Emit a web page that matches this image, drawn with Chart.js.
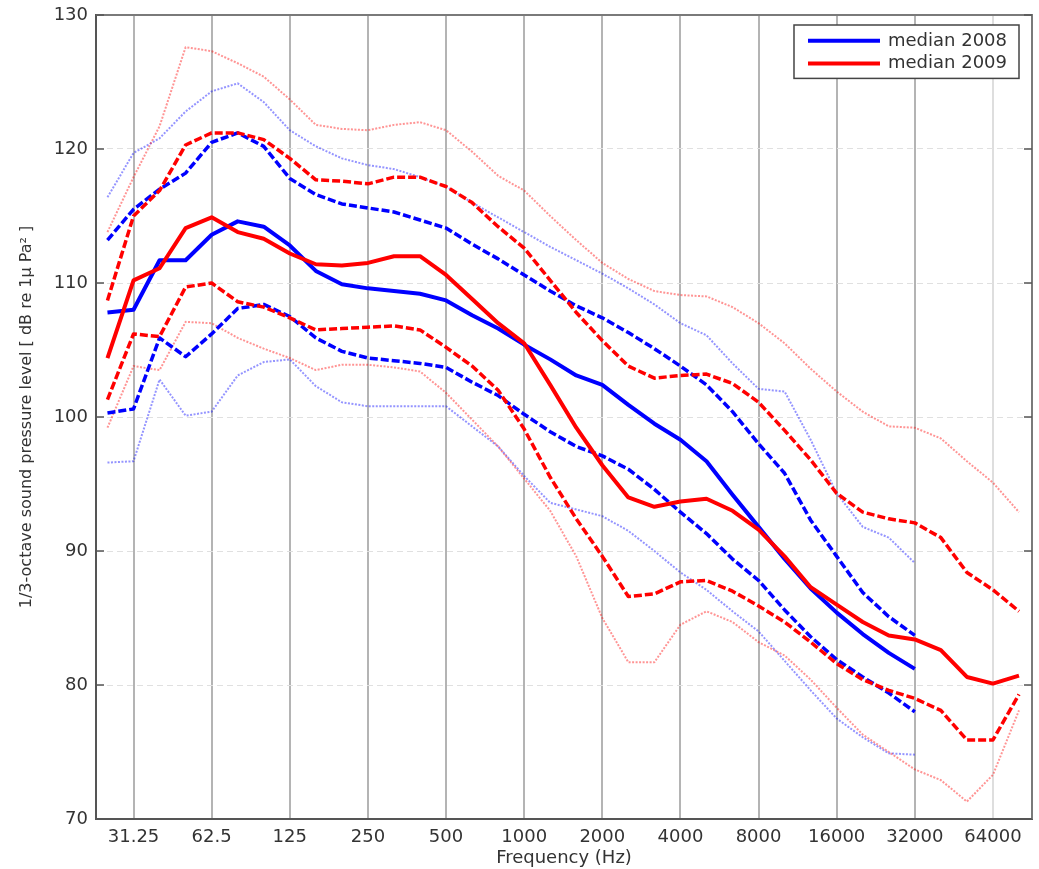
<!DOCTYPE html>
<html>
<head>
<meta charset="utf-8">
<script src="https://cdn.jsdelivr.net/npm/chart.js@4.4.1/dist/chart.umd.min.js"></script>
<style>
  html, body { margin: 0; padding: 0; background: #ffffff; }
  #wrap { width: 1039px; height: 869px; }
</style>
</head>
<body>
<div id="wrap"><canvas id="c" width="1039" height="869"></canvas></div>
<script>
// 1/3-octave band centre frequencies (Hz)
const freqs = [24.8, 31.25, 39.37, 49.61, 62.5, 78.75, 99.21, 125, 157.49, 198.43,
  250, 314.98, 396.85, 500, 629.96, 793.70, 1000, 1259.92, 1587.40, 2000,
  2519.84, 3174.80, 4000, 5039.68, 6349.60, 8000, 10079.37, 12699.21, 16000, 20158.74,
  25398.42, 32000, 40317.47, 50796.84, 64000, 80634.95];

const tickValues = [31.25, 62.5, 125, 250, 500, 1000, 2000, 4000, 8000, 16000, 32000, 64000];
const tickLabels = ['31.25', '62.5', '125', '250', '500', '1000', '2000', '4000', '8000', '16000', '32000', '64000'];

// 2008 (blue) – 32 bands up to 32 kHz
const median2008 = [107.8, 108.0, 111.7, 111.7, 113.6, 114.6, 114.2, 112.8, 110.9, 109.9,
  109.6, 109.4, 109.2, 108.7, 107.6, 106.6, 105.4, 104.3, 103.1, 102.4,
  100.9, 99.5, 98.3, 96.7, 94.2, 91.8, 89.4, 87.2, 85.4, 83.8, 82.4, 81.2];
const upperQ2008 = [113.2, 115.5, 117.0, 118.2, 120.5, 121.2, 120.2, 117.8, 116.6, 115.9,
  115.6, 115.3, 114.7, 114.1, 112.9, 111.8, 110.6, 109.4, 108.3, 107.4,
  106.3, 105.1, 103.8, 102.4, 100.4, 98.0, 95.8, 92.3, 89.6, 86.9, 85.1, 83.7];
const lowerQ2008 = [100.3, 100.6, 105.9, 104.5, 106.2, 108.1, 108.4, 107.5, 105.9, 104.9,
  104.4, 104.2, 104.0, 103.7, 102.6, 101.6, 100.2, 98.9, 97.8, 97.1,
  96.1, 94.6, 92.9, 91.3, 89.4, 87.8, 85.6, 83.6, 81.9, 80.6, 79.4, 78.0];
const upperP2008 = [116.4, 119.7, 120.8, 122.8, 124.3, 124.9, 123.5, 121.4, 120.2, 119.3,
  118.8, 118.5, 117.9, 117.2, 116.0, 114.9, 113.8, 112.7, 111.7, 110.7,
  109.6, 108.4, 107.0, 106.1, 104.0, 102.1, 101.9, 98.3, 94.3, 91.8, 91.0, 89.1];
const lowerP2008 = [96.6, 96.7, 102.8, 100.1, 100.4, 103.1, 104.1, 104.3, 102.3, 101.1,
  100.8, 100.8, 100.8, 100.8, 99.3, 97.8, 95.6, 93.6, 93.1, 92.6,
  91.5, 90.0, 88.4, 87.1, 85.5, 84.0, 81.8, 79.6, 77.5, 76.1, 74.9, 74.8];

// 2009 (red) – 36 bands up to 80 kHz
const median2009 = [104.4, 110.2, 111.1, 114.1, 114.9, 113.8, 113.3, 112.2, 111.4, 111.3,
  111.5, 112.0, 112.0, 110.6, 108.8, 107.0, 105.5, 102.4, 99.2, 96.4,
  94.0, 93.3, 93.7, 93.9, 93.0, 91.6, 89.6, 87.3, 86.0, 84.7,
  83.7, 83.4, 82.6, 80.6, 80.1, 80.7];
const upperQ2009 = [108.7, 115.0, 116.9, 120.3, 121.2, 121.2, 120.7, 119.3, 117.7, 117.6,
  117.4, 117.9, 117.9, 117.2, 116.0, 114.2, 112.6, 110.2, 107.8, 105.7,
  103.8, 102.9, 103.1, 103.2, 102.5, 101.1, 99.0, 96.8, 94.3, 92.9,
  92.4, 92.1, 91.0, 88.4, 87.1, 85.5];
const lowerQ2009 = [101.3, 106.2, 106.0, 109.7, 110.0, 108.6, 108.2, 107.4, 106.5, 106.6,
  106.7, 106.8, 106.5, 105.2, 103.8, 102.0, 99.1, 95.5, 92.4, 89.6,
  86.6, 86.8, 87.7, 87.8, 87.0, 85.9, 84.7, 83.2, 81.6, 80.4,
  79.6, 79.0, 78.1, 75.9, 75.9, 79.3];
const upperP2009 = [113.8, 117.9, 121.7, 127.6, 127.3, 126.4, 125.4, 123.7, 121.8, 121.5,
  121.4, 121.8, 122.0, 121.4, 119.8, 118.0, 116.9, 115.0, 113.2, 111.5,
  110.3, 109.4, 109.1, 109.0, 108.2, 107.0, 105.5, 103.6, 101.9, 100.4,
  99.3, 99.2, 98.4, 96.7, 95.1, 92.9];
const lowerP2009 = [99.2, 103.8, 103.5, 107.1, 107.0, 105.9, 105.1, 104.4, 103.5, 103.9,
  103.9, 103.7, 103.4, 101.8, 99.8, 97.8, 95.4, 93.0, 89.6, 85.0,
  81.7, 81.7, 84.5, 85.5, 84.7, 83.2, 82.2, 80.4, 78.3, 76.3,
  75.0, 73.7, 72.9, 71.3, 73.3, 78.1];

const BLUE = '#0000ff', RED = '#ff0000';
const BLUE_LIGHT = 'rgba(0,0,255,0.42)', RED_LIGHT = 'rgba(255,0,0,0.42)';

function pts(values) { return values.map((v, i) => ({ x: freqs[i], y: v })); }
function ds(label, values, color, kind) {
  const d = { label: label, data: pts(values), borderColor: color, backgroundColor: color,
              fill: false, pointRadius: 0, tension: 0, borderJoinStyle: 'round' };
  if (kind === 'median') { d.borderWidth = 4; }
  else if (kind === 'quart') { d.borderWidth = 3.5; d.borderDash = [8, 3]; }
  else { d.borderWidth = 2; d.borderDash = [2, 1.5]; }
  return d;
}

const datasets = [
  ds('median 2009', median2009, RED, 'median'),
  ds('median 2008', median2008, BLUE, 'median'),
  ds('upper quartile 2009', upperQ2009, RED, 'quart'),
  ds('lower quartile 2009', lowerQ2009, RED, 'quart'),
  ds('upper quartile 2008', upperQ2008, BLUE, 'quart'),
  ds('lower quartile 2008', lowerQ2008, BLUE, 'quart'),
  ds('upper percentile 2009', upperP2009, RED_LIGHT, 'pct'),
  ds('lower percentile 2009', lowerP2009, RED_LIGHT, 'pct'),
  ds('upper percentile 2008', upperP2008, BLUE_LIGHT, 'pct'),
  ds('lower percentile 2008', lowerP2008, BLUE_LIGHT, 'pct')
];

const legendItems = [
  { text: 'median 2008', color: BLUE },
  { text: 'median 2009', color: RED }
];

const TEXT = '#333333';
const FONT = 'DejaVu Sans';

// frame + inward y ticks
const framePlugin = {
  id: 'frame',
  beforeDatasetsDraw(chart) {
    const { ctx, chartArea: a, scales } = chart;
    ctx.save();
    ctx.strokeStyle = '#7a7a7a';
    ctx.lineWidth = 2;
    ctx.beginPath();
    ctx.moveTo(a.left, a.top); ctx.lineTo(a.right, a.top); ctx.lineTo(a.right, a.bottom);
    ctx.stroke();
    ctx.strokeStyle = '#555';
    ctx.lineWidth = 1.5;
    scales.y.ticks.forEach(t => {
      const y = scales.y.getPixelForValue(t.value);
      ctx.beginPath();
      ctx.moveTo(a.left, y); ctx.lineTo(a.left + 8, y);
      ctx.moveTo(a.right - 8, y); ctx.lineTo(a.right, y);
      ctx.stroke();
    });
    ctx.restore();
  }
};

// legend box inside the plot, top-right
const boxLegendPlugin = {
  id: 'boxLegend',
  afterDraw(chart) {
    const { ctx, chartArea: a } = chart;
    ctx.save();
    ctx.font = '18px "' + FONT + '"';
    const textW = Math.max(...legendItems.map(it => ctx.measureText(it.text).width));
    const padL = 14, lineLen = 72, gap = 8, padR = 12, rowH = 22.7, padV = 4;
    const w = padL + lineLen + gap + textW + padR;
    const h = padV * 2 + rowH * legendItems.length;
    const right = a.right - 13, top = a.top + 10;
    const left = right - w;
    ctx.fillStyle = '#ffffff';
    ctx.fillRect(left, top, w, h);
    ctx.strokeStyle = '#444';
    ctx.lineWidth = 1.5;
    ctx.strokeRect(left, top, w, h);
    legendItems.forEach((it, i) => {
      const cy = top + padV + rowH * (i + 0.5) + 0.5;
      ctx.strokeStyle = it.color;
      ctx.lineWidth = 4;
      ctx.beginPath();
      ctx.moveTo(left + padL, cy); ctx.lineTo(left + padL + lineLen, cy);
      ctx.stroke();
      ctx.fillStyle = TEXT;
      ctx.textBaseline = 'middle';
      ctx.textAlign = 'left';
      ctx.fillText(it.text, left + padL + lineLen + gap, cy);
    });
    ctx.restore();
  }
};

new Chart(document.getElementById('c'), {
  type: 'line',
  data: { datasets: datasets },
  plugins: [framePlugin, boxLegendPlugin],
  options: {
    responsive: false,
    animation: false,
    devicePixelRatio: 1,
    parsing: true,
    layout: { padding: { left: 0, top: 15, right: 7, bottom: 0 } },
    plugins: { legend: { display: false }, tooltip: { enabled: false } },
    scales: {
      x: {
        type: 'logarithmic',
        min: 22.4,
        max: 90500,
        afterBuildTicks: s => { s.ticks = tickValues.map(v => ({ value: v })); },
        afterFit: s => { s.height = 50; },
        grid: {
          color: c => (c.tick && c.tick.value === 64000) ? '#dedede' : '#b4b4b4',
          lineWidth: 2,
          drawTicks: false
        },
        border: { display: true, color: '#555', width: 2 },
        ticks: {
          font: { family: FONT, size: 18 },
          color: TEXT,
          padding: 8,
          maxRotation: 0,
          autoSkip: false,
          callback: (v, i) => tickLabels[i]
        },
        title: {
          display: true,
          text: 'Frequency (Hz)',
          font: { family: FONT, size: 18 },
          color: TEXT,
          padding: { top: 0, bottom: 0 }
        }
      },
      y: {
        type: 'linear',
        min: 70,
        max: 130,
        afterFit: s => { s.width = 96; },
        grid: { color: '#e0e0e0', lineWidth: 1, drawTicks: false },
        border: { display: true, color: '#555', width: 2, dash: [6, 4] },
        ticks: {
          stepSize: 10,
          font: { family: FONT, size: 18, lineHeight: 0.75 },
          color: TEXT,
          padding: 8
        },
        title: {
          display: true,
          text: '1/3-octave sound pressure level [ dB re 1µ Pa² ]',
          font: { family: FONT, size: 16 },
          color: TEXT,
          padding: { top: 17, bottom: 0 }
        }
      }
    }
  }
});
</script>
</body>
</html>
